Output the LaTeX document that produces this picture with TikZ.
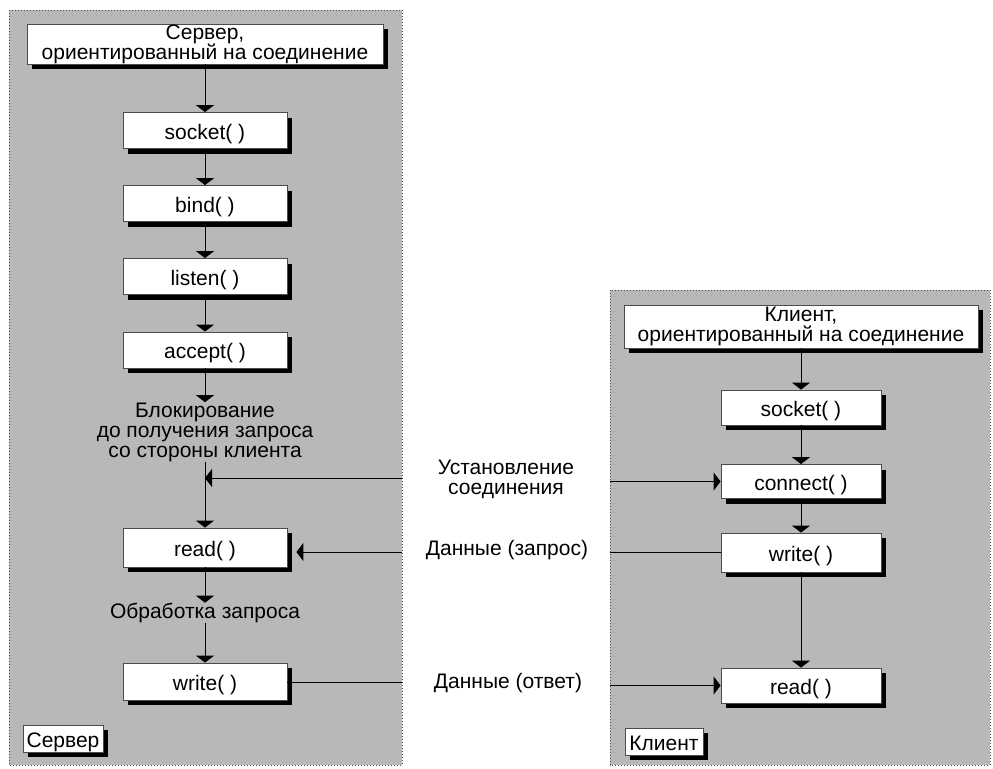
\documentclass[tikz,border=0pt]{standalone}
\usepackage{fontspec}
\setmainfont{Liberation Sans}
\usetikzlibrary{arrows.meta,shadows}

\tikzset{
  panel/.style={fill=black!28, draw=black!70, densely dotted, line width=0.5pt},
  callbox/.style={draw=black!70, line width=0.4pt, fill=white, inner sep=0pt,
    minimum width=82pt, minimum height=18pt, text height=9pt, text depth=0.5pt,
    drop shadow={shadow xshift=2.5pt, shadow yshift=-2.5pt, fill=black, opacity=1}},
  headbox/.style={draw=black!70, line width=0.4pt, fill=white, inner sep=0pt,
    align=center, minimum width=178pt, minimum height=20pt,
    font=\fontsize{10.5pt}{10pt}\selectfont,
    drop shadow={shadow xshift=2.5pt, shadow yshift=-2.5pt, fill=black, opacity=1}},
  tagbox/.style={callbox, minimum width=40pt, minimum height=13.5pt},
  note/.style={align=center, inner sep=0pt, font=\fontsize{10.5pt}{10pt}\selectfont},
  arr/.style={-{Triangle[width=9pt,length=3.5pt]}, line width=0.5pt},
  link/.style={line width=0.5pt}
}

\begin{document}
\begin{tikzpicture}[x=0.5pt, y=-0.5pt, font=\fontsize{10.5pt}{10pt}\selectfont]
  \useasboundingbox (0,0) rectangle (993,768);

  % Panels
  \draw[panel] (9,10) rectangle (402,765);
  \draw[panel] (610,290) rectangle (990,765);

  % Server side
  \node[headbox] (shead) at (205,44) {Сервер,\\ориентированный на соединение};
  \foreach \name/\txt/\ypos in {ssock/socket( )/130.5, sbind/bind( )/203.5,
      slisten/listen( )/276.5, saccept/accept( )/350}
    \node[callbox] (\name) at (205,\ypos) {\txt};
  \node[note] (sblock) at (205,432) {Блокирование\\до получения запроса\\со стороны клиента};
  \node[callbox, minimum height=19.5pt] (sread) at (205,547.5) {read( )};
  \node[note] (sproc) at (205,613) {Обработка запроса};
  \node[callbox, minimum height=18.5pt] (swrite) at (205,681.5) {write( )};
  \node[tagbox] (stag) at (63,738.5) {Сервер};

  \draw[arr] (shead) -- (ssock);
  \draw[arr] (ssock) -- (sbind);
  \draw[arr] (sbind) -- (slisten);
  \draw[arr] (slisten) -- (saccept);
  \draw[arr] (saccept) -- (sblock);
  \draw[arr] (sblock) -- (sread);
  \draw[arr] (sread) -- (sproc);
  \draw[arr] (sproc) -- (swrite);

  % Client side
  \node[headbox, minimum width=177pt, minimum height=21.5pt] (chead) at (801,326.5)
    {Клиент,\\ориентированный на соединение};
  \node[callbox, minimum width=80pt, minimum height=17.5pt] (csock) at (801,407.5) {socket( )};
  \node[callbox, minimum width=80pt, minimum height=17pt] (cconn) at (801,481.5) {connect( )};
  \node[callbox, minimum width=80pt, minimum height=19.5pt] (cwrite) at (801,552.5) {write( )};
  \node[callbox, minimum width=80pt, minimum height=17.5pt] (cread) at (801,685.5) {read( )};
  \node[tagbox, minimum width=39pt] (ctag) at (664,741.5) {Клиент};

  \draw[arr] (chead) -- (csock);
  \draw[arr] (csock) -- (cconn);
  \draw[arr] (cconn) -- (cwrite);
  \draw[arr] (cwrite) -- (cread);

  % Exchange between the two sides
  \node[note] (lconn) at (506,479) {Установление\\соединения};
  \node[note] (lreq) at (507,550) {Данные (запрос)};
  \node[note] (lans) at (508,683) {Данные (ответ)};

  \coordinate (sjoin) at (205,478);
  \coordinate (sedge1) at (402,478);
  \coordinate (sedge2) at (402,552);
  \coordinate (sedge3) at (402,682);
  \coordinate (cedge1) at (610,481.5);
  \coordinate (cedge2) at (610,552.5);
  \coordinate (cedge3) at (610,685.5);

  \draw[arr] (sedge1) -- (sjoin);
  \draw[arr] (cedge1) -- (cconn.west);
  \draw[link] (cwrite.west) -- (cedge2);
  \draw[arr, shorten >=4.5pt] (sedge2) -- (sread.east |- sedge2);
  \draw[link] (swrite.east |- sedge3) -- (sedge3);
  \draw[arr] (cedge3) -- (cread.west);
\end{tikzpicture}
\end{document}
